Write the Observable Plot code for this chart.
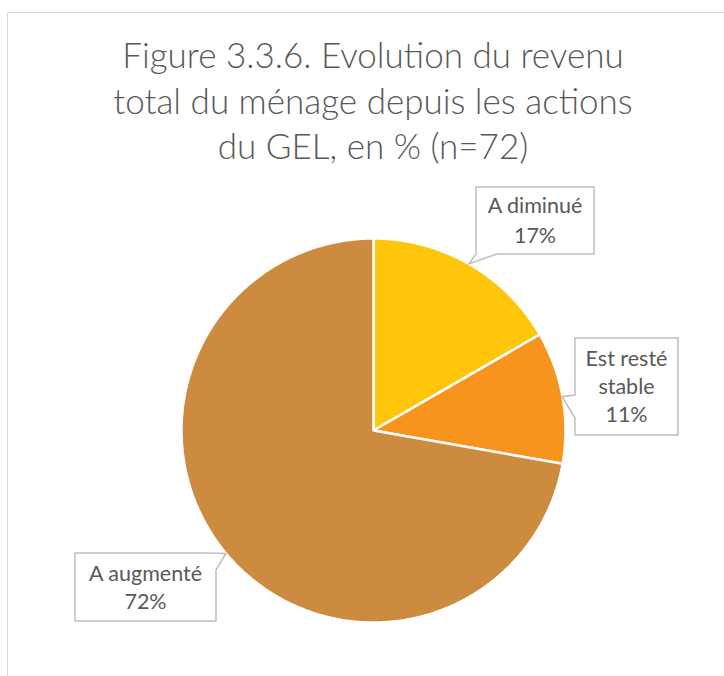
<!DOCTYPE html>
<html>
<head>
<meta charset="utf-8">
<script src="https://cdn.jsdelivr.net/npm/d3@7"></script>
<script src="https://cdn.jsdelivr.net/npm/@observablehq/plot@0.6"></script>
<style>
  html, body { margin: 0; padding: 0; background: #fff; }
  #wrap { position: relative; width: 724px; height: 676px; overflow: hidden; font-family: Lato, "Open Sans", sans-serif; }
  #frame { position: absolute; left: 7px; top: 12px; width: 760px; height: 760px; border: 1.5px solid #d9d9d9; box-sizing: border-box; }
  #title { position: absolute; left: 0; width: 746px; top: 32px; text-align: center; color: #595959; font-size: 35px; font-weight: 300; line-height: 45.5px; }
  #chart { position: absolute; left: 0; top: 0; }
</style>
</head>
<body>
<div id="wrap">
  <div id="frame"></div>
  <div id="title">Figure 3.3.6. Evolution du revenu<br>total du ménage depuis les actions<br>du GEL, en % (n=72)</div>
  <div id="chart"></div>
</div>
<script>
// ---- data ----
const categories = ["A diminué", "Est resté stable", "A augmenté"];
const counts = [12, 8, 52];            // n = 72
const percentLabels = ["17%", "11%", "72%"];
const labelLines = [["A diminué"], ["Est resté", "stable"], ["A augmenté"]];
const colors = ["#FFC60B", "#F7941E", "#CD8B3F"];

// ---- layout of the callout boxes (pixels) ----
const boxes = [
  {x0: 476, y0: 187, x1: 594, y1: 254, pointer: "bottom", a: 476, b: 497, lineGap: 30},
  {x0: 575, y0: 338, x1: 678, y1: 435, pointer: "left", a: 395, b: 418, lineGap: 28},
  {x0: 75,  y0: 553, x1: 216, y1: 621, pointer: "topright", a: 205, b: 570, lineGap: 28}
];

// ---- pie geometry from the data ----
const arcs = d3.pie().sort(null).value(d => d)(counts);
const rows = [];
arcs.forEach((arc, i) => {
  const cat = categories[i];
  rows.push({category: cat, x: 0, y: 0});
  const steps = Math.max(2, Math.ceil((arc.endAngle - arc.startAngle) / (Math.PI / 360)));
  for (let k = 0; k <= steps; k++) {
    const t = arc.startAngle + (arc.endAngle - arc.startAngle) * k / steps;
    rows.push({category: cat, x: Math.sin(t), y: Math.cos(t)});
  }
});

function callouts(index, scales) {
  const g = d3.create("svg:g");
  arcs.forEach((arc, i) => {
    const m = (arc.startAngle + arc.endAngle) / 2;
    const tx = scales.x(Math.sin(m)), ty = scales.y(Math.cos(m));
    const b = boxes[i];
    let pts;
    if (b.pointer === "bottom") {
      pts = [[b.x0, b.y0], [b.x1, b.y0], [b.x1, b.y1], [b.b, b.y1], [tx, ty], [b.a, b.y1], [b.x0, b.y1]];
    } else if (b.pointer === "left") {
      pts = [[b.x0, b.y0], [b.x1, b.y0], [b.x1, b.y1], [b.x0, b.y1], [b.x0, b.b], [tx, ty], [b.x0, b.a]];
    } else {
      pts = [[b.x0, b.y0], [b.a, b.y0], [tx, ty], [b.x1, b.b], [b.x1, b.y1], [b.x0, b.y1]];
    }
    g.append("path")
      .attr("d", "M" + pts.map(p => p.join(",")).join("L") + "Z")
      .attr("fill", "#fff")
      .attr("stroke", "#bfbfbf")
      .attr("stroke-width", 1.5);
    const lines = [...labelLines[i], percentLabels[i]];
    const cx = (b.x0 + b.x1) / 2, cy = (b.y0 + b.y1) / 2;
    const firstBase = cy - (lines.length - 1) * b.lineGap / 2 + 7.5;
    lines.forEach((s, j) => {
      g.append("text")
        .attr("x", cx).attr("y", firstBase + j * b.lineGap)
        .attr("text-anchor", "middle")
        .attr("fill", "#595959")
        .attr("font-family", "Lato, 'Open Sans', sans-serif")
        .attr("font-weight", 400)
        .attr("font-size", 21.5)
        .text(s);
    });
  });
  return g.node();
}

const chart = Plot.plot({
  width: 724,
  height: 676,
  marginLeft: 181,
  marginRight: 159,
  marginTop: 238,
  marginBottom: 54,
  x: {domain: [-1, 1], axis: null},
  y: {domain: [-1, 1], axis: null},
  color: {domain: categories, range: colors},
  style: {background: "transparent", overflow: "visible"},
  marks: [
    Plot.line(rows, {x: "x", y: "y", z: "category", fill: "category", stroke: "white", strokeWidth: 2.5, strokeLinejoin: "miter", curve: "linear-closed"}),
    callouts
  ]
});
document.getElementById("chart").appendChild(chart);
</script>
</body>
</html>
